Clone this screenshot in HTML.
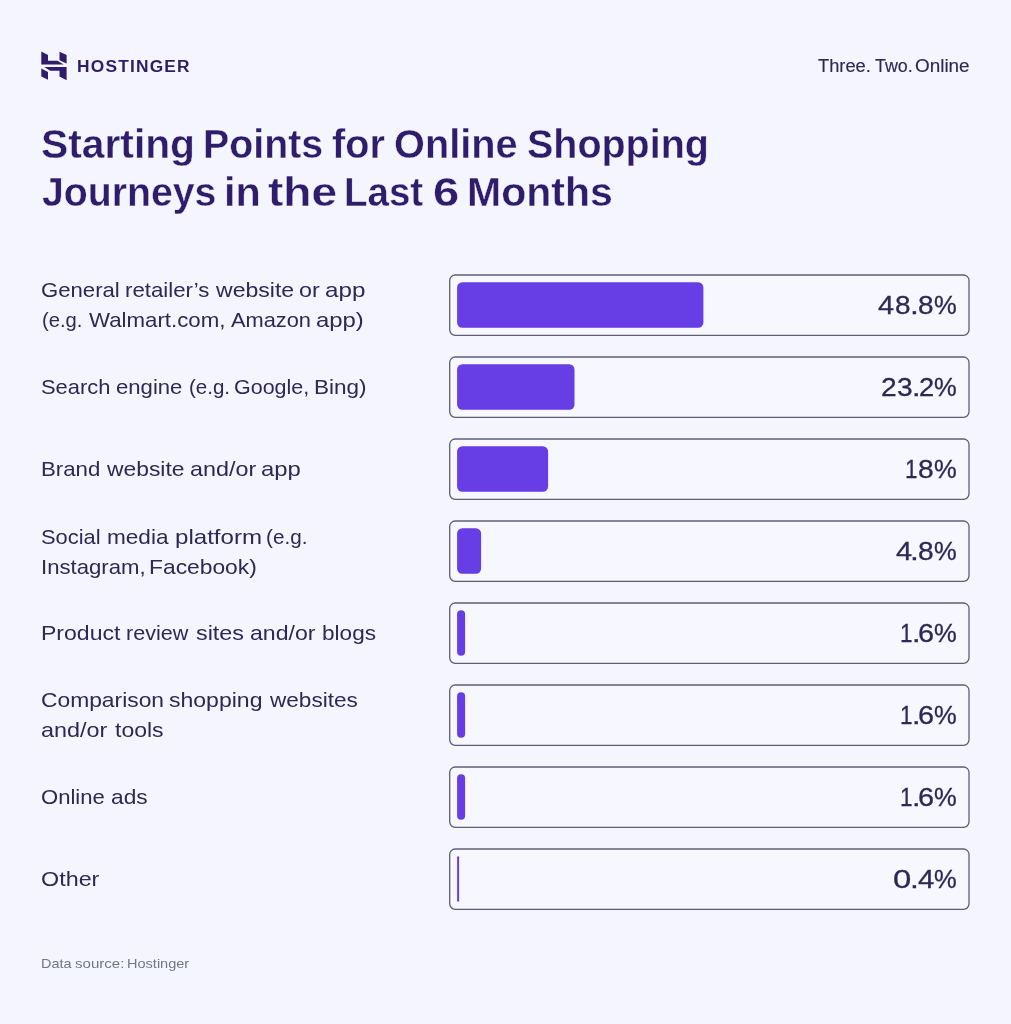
<!DOCTYPE html>
<html lang="en">
<head>
<meta charset="utf-8">
<title>Starting Points for Online Shopping Journeys in the Last 6 Months</title>
<style>
  html,body{margin:0;padding:0;}
  body{width:1011px;height:1024px;background:#f4f5ff;position:relative;overflow:hidden;
       font-family:"Liberation Sans",sans-serif;color:#2f1c6a;}
  .t{position:absolute;white-space:nowrap;line-height:1;transform-origin:0 0;display:block;}
  .g{position:absolute;left:0;top:0;}
  #logo{position:absolute;left:41px;top:51px;width:26px;height:30px;}
  #chart{position:absolute;left:0;top:0;}
  .bx{fill:#f6f7ff;stroke:#605d78;stroke-width:1.3;}
  .br{fill:#673de6;}
  #brand{left:77.20px;top:58.10px;font-size:17.4px;font-weight:700;color:#2f1c6a;letter-spacing:1.2px;transform:scaleX(0.9964);}
  #tagw1{left:818.40px;top:57.00px;font-size:18px;font-weight:400;color:#2f2756;-webkit-text-stroke:0.15px #2f2756;transform:scaleX(1.0160);}
  #tagw2{left:875.20px;top:57.00px;font-size:18px;font-weight:400;color:#2f2756;-webkit-text-stroke:0.15px #2f2756;transform:scaleX(0.9917);}
  #tagw3{left:915.35px;top:57.00px;font-size:18px;font-weight:400;color:#2f2756;-webkit-text-stroke:0.15px #2f2756;transform:scaleX(1.0500);}
  #t1w1{left:40.96px;top:123.70px;font-size:40px;font-weight:700;color:#2f1c6a;-webkit-text-stroke:0.35px #f4f5ff;transform:scaleX(1.0192);}
  #t1w2{left:202.75px;top:123.70px;font-size:40px;font-weight:700;color:#2f1c6a;-webkit-text-stroke:0.35px #f4f5ff;transform:scaleX(0.9829);}
  #t1w3{left:331.51px;top:123.70px;font-size:40px;font-weight:700;color:#2f1c6a;-webkit-text-stroke:0.35px #f4f5ff;transform:scaleX(0.9902);}
  #t1w4{left:393.61px;top:123.70px;font-size:40px;font-weight:700;color:#2f1c6a;-webkit-text-stroke:0.35px #f4f5ff;transform:scaleX(0.9926);}
  #t1w5{left:526.93px;top:123.70px;font-size:40px;font-weight:700;color:#2f1c6a;-webkit-text-stroke:0.35px #f4f5ff;transform:scaleX(0.9860);}
  #t2w1{left:41.82px;top:171.50px;font-size:40px;font-weight:700;color:#2f1c6a;-webkit-text-stroke:0.35px #f4f5ff;transform:scaleX(0.9806);}
  #t2w2{left:223.80px;top:171.50px;font-size:40px;font-weight:700;color:#2f1c6a;-webkit-text-stroke:0.35px #f4f5ff;transform:scaleX(1.0333);}
  #t2w3{left:268.05px;top:171.50px;font-size:40px;font-weight:700;color:#2f1c6a;-webkit-text-stroke:0.35px #f4f5ff;transform:scaleX(1.1509);}
  #t2w4{left:344.42px;top:171.50px;font-size:40px;font-weight:700;color:#2f1c6a;-webkit-text-stroke:0.35px #f4f5ff;transform:scaleX(0.9615);}
  #t2w5{left:432.54px;top:171.50px;font-size:40px;font-weight:700;color:#2f1c6a;-webkit-text-stroke:0.35px #f4f5ff;transform:scaleX(1.1778);}
  #t2w6{left:467.13px;top:171.50px;font-size:40px;font-weight:700;color:#2f1c6a;-webkit-text-stroke:0.35px #f4f5ff;transform:scaleX(1.0248);}
  #l1aw1{left:41.35px;top:278.80px;font-size:21px;font-weight:400;color:#2f2756;transform:scaleX(1.0542);}
  #l1aw2{left:125.24px;top:278.80px;font-size:21px;font-weight:400;color:#2f2756;transform:scaleX(1.0590);}
  #l1aw3{left:216.30px;top:278.80px;font-size:21px;font-weight:400;color:#2f2756;transform:scaleX(1.0971);}
  #l1aw4{left:299.29px;top:278.80px;font-size:21px;font-weight:400;color:#2f2756;transform:scaleX(1.1118);}
  #l1aw5{left:325.45px;top:278.80px;font-size:21px;font-weight:400;color:#2f2756;transform:scaleX(1.1515);}
  #l1bw1{left:41.94px;top:309.40px;font-size:21px;font-weight:400;color:#2f2756;transform:scaleX(0.9615);}
  #l1bw2{left:88.80px;top:309.40px;font-size:21px;font-weight:400;color:#2f2756;transform:scaleX(1.0598);}
  #l1bw3{left:230.60px;top:309.40px;font-size:21px;font-weight:400;color:#2f2756;transform:scaleX(1.0382);}
  #l1bw4{left:315.86px;top:309.40px;font-size:21px;font-weight:400;color:#2f2756;transform:scaleX(1.1375);}
  #l2aw1{left:41.36px;top:375.80px;font-size:21px;font-weight:400;color:#2f2756;transform:scaleX(1.0438);}
  #l2aw2{left:116.35px;top:375.80px;font-size:21px;font-weight:400;color:#2f2756;transform:scaleX(1.0525);}
  #l2aw3{left:189.22px;top:375.80px;font-size:21px;font-weight:400;color:#2f2756;transform:scaleX(0.9769);}
  #l2aw4{left:234.08px;top:375.80px;font-size:21px;font-weight:400;color:#2f2756;transform:scaleX(1.0225);}
  #l2aw5{left:313.76px;top:375.80px;font-size:21px;font-weight:400;color:#2f2756;transform:scaleX(1.0717);}
  #l3aw1{left:40.68px;top:457.90px;font-size:21px;font-weight:400;color:#2f2756;transform:scaleX(1.0585);}
  #l3aw2{left:106.50px;top:457.90px;font-size:21px;font-weight:400;color:#2f2756;transform:scaleX(1.0886);}
  #l3aw3{left:189.59px;top:457.90px;font-size:21px;font-weight:400;color:#2f2756;transform:scaleX(1.1121);}
  #l3aw4{left:261.26px;top:457.90px;font-size:21px;font-weight:400;color:#2f2756;transform:scaleX(1.1364);}
  #l4aw1{left:41.36px;top:525.70px;font-size:21px;font-weight:400;color:#2f2756;transform:scaleX(1.0418);}
  #l4aw2{left:106.62px;top:525.70px;font-size:21px;font-weight:400;color:#2f2756;transform:scaleX(1.0750);}
  #l4aw3{left:174.75px;top:525.70px;font-size:21px;font-weight:400;color:#2f2756;transform:scaleX(1.1466);}
  #l4aw4{left:266.02px;top:525.70px;font-size:21px;font-weight:400;color:#2f2756;transform:scaleX(0.9846);}
  #l4bw1{left:40.69px;top:556.40px;font-size:21px;font-weight:400;color:#2f2756;transform:scaleX(1.0537);}
  #l4bw2{left:148.73px;top:556.40px;font-size:21px;font-weight:400;color:#2f2756;transform:scaleX(1.0865);}
  #l5aw1{left:40.51px;top:621.90px;font-size:21px;font-weight:400;color:#2f2756;transform:scaleX(1.0971);}
  #l5aw2{left:126.37px;top:621.90px;font-size:21px;font-weight:400;color:#2f2756;transform:scaleX(1.0283);}
  #l5aw3{left:195.99px;top:621.90px;font-size:21px;font-weight:400;color:#2f2756;transform:scaleX(1.1122);}
  #l5aw4{left:249.80px;top:621.90px;font-size:21px;font-weight:400;color:#2f2756;transform:scaleX(1.1000);}
  #l5aw5{left:321.62px;top:621.90px;font-size:21px;font-weight:400;color:#2f2756;transform:scaleX(1.0750);}
  #l6aw1{left:41.21px;top:688.60px;font-size:21px;font-weight:400;color:#2f2756;transform:scaleX(1.0865);}
  #l6aw2{left:169.10px;top:688.60px;font-size:21px;font-weight:400;color:#2f2756;transform:scaleX(1.0964);}
  #l6aw3{left:269.70px;top:688.60px;font-size:21px;font-weight:400;color:#2f2756;transform:scaleX(1.0753);}
  #l6bw1{left:41.29px;top:719.20px;font-size:21px;font-weight:400;color:#2f2756;transform:scaleX(1.1138);}
  #l6bw2{left:114.50px;top:719.20px;font-size:21px;font-weight:400;color:#2f2756;transform:scaleX(1.0953);}
  #l7aw1{left:41.15px;top:785.90px;font-size:21px;font-weight:400;color:#2f2756;transform:scaleX(1.0508);}
  #l7aw2{left:111.12px;top:785.90px;font-size:21px;font-weight:400;color:#2f2756;transform:scaleX(1.0813);}
  #l8aw1{left:41.09px;top:867.80px;font-size:21px;font-weight:400;color:#2f2756;transform:scaleX(1.1118);}
  #v1w1{left:878.40px;top:292.20px;font-size:26.5px;font-weight:400;color:#2f2756;-webkit-text-stroke:0.3px #2f2756;transform:scaleX(1.0929);}
  #v1w2{left:894.85px;top:292.20px;font-size:26.5px;font-weight:400;color:#2f2756;-webkit-text-stroke:0.3px #2f2756;transform:scaleX(1.0538);}
  #v1w3{left:910.30px;top:292.20px;font-size:26.5px;font-weight:400;color:#2f2756;-webkit-text-stroke:0.3px #2f2756;transform:scaleX(1.2000);}
  #v1w4{left:918.25px;top:292.20px;font-size:26.5px;font-weight:400;color:#2f2756;-webkit-text-stroke:0.3px #2f2756;transform:scaleX(1.0538);}
  #v1w5{left:934.34px;top:292.20px;font-size:26.5px;font-weight:400;color:#2f2756;-webkit-text-stroke:0.3px #2f2756;transform:scaleX(0.9636);}
  #v2w1{left:881.04px;top:374.20px;font-size:26.5px;font-weight:400;color:#2f2756;-webkit-text-stroke:0.3px #2f2756;transform:scaleX(1.0615);}
  #v2w2{left:897.14px;top:374.20px;font-size:26.5px;font-weight:400;color:#2f2756;-webkit-text-stroke:0.3px #2f2756;transform:scaleX(1.0615);}
  #v2w3{left:911.87px;top:374.20px;font-size:26.5px;font-weight:400;color:#2f2756;-webkit-text-stroke:0.3px #2f2756;transform:scaleX(1.1667);}
  #v2w4{left:919.37px;top:374.20px;font-size:26.5px;font-weight:400;color:#2f2756;-webkit-text-stroke:0.3px #2f2756;transform:scaleX(1.0308);}
  #v2w5{left:934.34px;top:374.20px;font-size:26.5px;font-weight:400;color:#2f2756;-webkit-text-stroke:0.3px #2f2756;transform:scaleX(0.9636);}
  #v3w1{left:905.00px;top:456.20px;font-size:26.5px;font-weight:400;color:#2f2756;-webkit-text-stroke:0.3px #2f2756;transform:scaleX(0.8500);}
  #v3w2{left:918.14px;top:456.20px;font-size:26.5px;font-weight:400;color:#2f2756;-webkit-text-stroke:0.3px #2f2756;transform:scaleX(1.0615);}
  #v3w3{left:934.34px;top:456.20px;font-size:26.5px;font-weight:400;color:#2f2756;-webkit-text-stroke:0.3px #2f2756;transform:scaleX(0.9636);}
  #v4w1{left:895.50px;top:538.20px;font-size:26.5px;font-weight:400;color:#2f2756;-webkit-text-stroke:0.3px #2f2756;transform:scaleX(1.0929);}
  #v4w2{left:910.30px;top:538.20px;font-size:26.5px;font-weight:400;color:#2f2756;-webkit-text-stroke:0.3px #2f2756;transform:scaleX(1.2000);}
  #v4w3{left:918.14px;top:538.20px;font-size:26.5px;font-weight:400;color:#2f2756;-webkit-text-stroke:0.3px #2f2756;transform:scaleX(1.0615);}
  #v4w4{left:934.34px;top:538.20px;font-size:26.5px;font-weight:400;color:#2f2756;-webkit-text-stroke:0.3px #2f2756;transform:scaleX(0.9636);}
  #v5w1{left:899.75px;top:620.20px;font-size:26.5px;font-weight:400;color:#2f2756;-webkit-text-stroke:0.3px #2f2756;transform:scaleX(0.8500);}
  #v5w2{left:911.67px;top:620.20px;font-size:26.5px;font-weight:400;color:#2f2756;-webkit-text-stroke:0.3px #2f2756;transform:scaleX(1.1667);}
  #v5w3{left:918.12px;top:620.20px;font-size:26.5px;font-weight:400;color:#2f2756;-webkit-text-stroke:0.3px #2f2756;transform:scaleX(1.0846);}
  #v5w4{left:934.34px;top:620.20px;font-size:26.5px;font-weight:400;color:#2f2756;-webkit-text-stroke:0.3px #2f2756;transform:scaleX(0.9636);}
  #v6w1{left:899.75px;top:702.20px;font-size:26.5px;font-weight:400;color:#2f2756;-webkit-text-stroke:0.3px #2f2756;transform:scaleX(0.8500);}
  #v6w2{left:911.67px;top:702.20px;font-size:26.5px;font-weight:400;color:#2f2756;-webkit-text-stroke:0.3px #2f2756;transform:scaleX(1.1667);}
  #v6w3{left:918.12px;top:702.20px;font-size:26.5px;font-weight:400;color:#2f2756;-webkit-text-stroke:0.3px #2f2756;transform:scaleX(1.0846);}
  #v6w4{left:934.34px;top:702.20px;font-size:26.5px;font-weight:400;color:#2f2756;-webkit-text-stroke:0.3px #2f2756;transform:scaleX(0.9636);}
  #v7w1{left:899.75px;top:784.20px;font-size:26.5px;font-weight:400;color:#2f2756;-webkit-text-stroke:0.3px #2f2756;transform:scaleX(0.8500);}
  #v7w2{left:911.67px;top:784.20px;font-size:26.5px;font-weight:400;color:#2f2756;-webkit-text-stroke:0.3px #2f2756;transform:scaleX(1.1667);}
  #v7w3{left:918.12px;top:784.20px;font-size:26.5px;font-weight:400;color:#2f2756;-webkit-text-stroke:0.3px #2f2756;transform:scaleX(1.0846);}
  #v7w4{left:934.34px;top:784.20px;font-size:26.5px;font-weight:400;color:#2f2756;-webkit-text-stroke:0.3px #2f2756;transform:scaleX(0.9636);}
  #v8w1{left:893.46px;top:866.20px;font-size:26.5px;font-weight:400;color:#2f2756;-webkit-text-stroke:0.3px #2f2756;transform:scaleX(1.2385);}
  #v8w2{left:910.30px;top:866.20px;font-size:26.5px;font-weight:400;color:#2f2756;-webkit-text-stroke:0.3px #2f2756;transform:scaleX(1.2000);}
  #v8w3{left:918.30px;top:866.20px;font-size:26.5px;font-weight:400;color:#2f2756;-webkit-text-stroke:0.3px #2f2756;transform:scaleX(1.1071);}
  #v8w4{left:934.34px;top:866.20px;font-size:26.5px;font-weight:400;color:#2f2756;-webkit-text-stroke:0.3px #2f2756;transform:scaleX(0.9636);}
  #srcw1{left:40.91px;top:957.40px;font-size:13.3px;font-weight:400;color:#727586;transform:scaleX(1.0852);}
  #srcw2{left:75.37px;top:957.40px;font-size:13.3px;font-weight:400;color:#727586;transform:scaleX(1.1317);}
  #srcw3{left:126.61px;top:957.40px;font-size:13.3px;font-weight:400;color:#727586;transform:scaleX(1.0929);}
</style>
</head>
<body>
<svg id="logo" viewBox="41 51 26 30">
  <g fill="#2f1c6a">
    <polygon points="41.3,51.5 48,54.9 48,60.8 57.5,60.8 63.7,64.6 41.3,64.6"/>
    <polygon points="59.5,51.7 66.6,55.1 66.6,63.6 59.5,60.2"/>
    <polygon points="44.3,67.1 66.6,67.1 66.6,80.2 59.5,76.6 59.5,70.7 50.2,70.7"/>
    <polygon points="41.3,68.5 48,71.9 48,79.8 41.3,76.6"/>
  </g>
</svg>
<div class="t" id="brand">HOSTINGER</div>
<div class="g" id="tag"><span class="t" id="tagw1">Three.</span> <span class="t" id="tagw2">Two.</span> <span class="t" id="tagw3">Online</span></div>
<div class="g" id="t1"><span class="t" id="t1w1">Starting</span> <span class="t" id="t1w2">Points</span> <span class="t" id="t1w3">for</span> <span class="t" id="t1w4">Online</span> <span class="t" id="t1w5">Shopping</span></div>
<div class="g" id="t2"><span class="t" id="t2w1">Journeys</span> <span class="t" id="t2w2">in</span> <span class="t" id="t2w3">the</span> <span class="t" id="t2w4">Last</span> <span class="t" id="t2w5">6</span> <span class="t" id="t2w6">Months</span></div>
<svg id="chart" width="1011" height="1024" viewBox="0 0 1011 1024">
  <rect class="bx" x="449.7" y="275.0" width="519.3" height="60.3" rx="5.5" ry="5.5"/>
  <rect class="br" x="457.1" y="282.2" width="246.3" height="45.6" rx="5.2" ry="5.2"/>
  <rect class="bx" x="449.7" y="357.0" width="519.3" height="60.3" rx="5.5" ry="5.5"/>
  <rect class="br" x="457.1" y="364.2" width="117.4" height="45.6" rx="5.2" ry="5.2"/>
  <rect class="bx" x="449.7" y="439.0" width="519.3" height="60.3" rx="5.5" ry="5.5"/>
  <rect class="br" x="457.1" y="446.2" width="91" height="45.6" rx="5.2" ry="5.2"/>
  <rect class="bx" x="449.7" y="521.0" width="519.3" height="60.3" rx="5.5" ry="5.5"/>
  <rect class="br" x="457.1" y="528.2" width="24.0" height="45.6" rx="5.2" ry="5.2"/>
  <rect class="bx" x="449.7" y="603.0" width="519.3" height="60.3" rx="5.5" ry="5.5"/>
  <rect class="br" x="457.1" y="610.2" width="8" height="45.6" rx="4.0" ry="4.0"/>
  <rect class="bx" x="449.7" y="685.0" width="519.3" height="60.3" rx="5.5" ry="5.5"/>
  <rect class="br" x="457.1" y="692.2" width="8" height="45.6" rx="4.0" ry="4.0"/>
  <rect class="bx" x="449.7" y="767.0" width="519.3" height="60.3" rx="5.5" ry="5.5"/>
  <rect class="br" x="457.1" y="774.2" width="8" height="45.6" rx="4.0" ry="4.0"/>
  <rect class="bx" x="449.7" y="849.0" width="519.3" height="60.3" rx="5.5" ry="5.5"/>
  <rect class="br" x="457.1" y="856.2" width="2" height="45.6" rx="1.0" ry="1.0"/>
</svg>
<!-- row 1 -->
<div class="g" id="l1a"><span class="t" id="l1aw1">General</span> <span class="t" id="l1aw2">retailer’s</span> <span class="t" id="l1aw3">website</span> <span class="t" id="l1aw4">or</span> <span class="t" id="l1aw5">app</span></div>
<div class="g" id="l1b"><span class="t" id="l1bw1">(e.g.</span> <span class="t" id="l1bw2">Walmart.com,</span> <span class="t" id="l1bw3">Amazon</span> <span class="t" id="l1bw4">app)</span></div>
<div class="g" id="v1"><span class="t" id="v1w1">4</span><span class="t" id="v1w2">8</span><span class="t" id="v1w3">.</span><span class="t" id="v1w4">8</span><span class="t" id="v1w5">%</span></div>
<!-- row 2 -->
<div class="g" id="l2a"><span class="t" id="l2aw1">Search</span> <span class="t" id="l2aw2">engine</span> <span class="t" id="l2aw3">(e.g.</span> <span class="t" id="l2aw4">Google,</span> <span class="t" id="l2aw5">Bing)</span></div>
<div class="g" id="v2"><span class="t" id="v2w1">2</span><span class="t" id="v2w2">3</span><span class="t" id="v2w3">.</span><span class="t" id="v2w4">2</span><span class="t" id="v2w5">%</span></div>
<!-- row 3 -->
<div class="g" id="l3a"><span class="t" id="l3aw1">Brand</span> <span class="t" id="l3aw2">website</span> <span class="t" id="l3aw3">and/or</span> <span class="t" id="l3aw4">app</span></div>
<div class="g" id="v3"><span class="t" id="v3w1">1</span><span class="t" id="v3w2">8</span><span class="t" id="v3w3">%</span></div>
<!-- row 4 -->
<div class="g" id="l4a"><span class="t" id="l4aw1">Social</span> <span class="t" id="l4aw2">media</span> <span class="t" id="l4aw3">platform</span> <span class="t" id="l4aw4">(e.g.</span></div>
<div class="g" id="l4b"><span class="t" id="l4bw1">Instagram,</span> <span class="t" id="l4bw2">Facebook)</span></div>
<div class="g" id="v4"><span class="t" id="v4w1">4</span><span class="t" id="v4w2">.</span><span class="t" id="v4w3">8</span><span class="t" id="v4w4">%</span></div>
<!-- row 5 -->
<div class="g" id="l5a"><span class="t" id="l5aw1">Product</span> <span class="t" id="l5aw2">review</span> <span class="t" id="l5aw3">sites</span> <span class="t" id="l5aw4">and/or</span> <span class="t" id="l5aw5">blogs</span></div>
<div class="g" id="v5"><span class="t" id="v5w1">1</span><span class="t" id="v5w2">.</span><span class="t" id="v5w3">6</span><span class="t" id="v5w4">%</span></div>
<!-- row 6 -->
<div class="g" id="l6a"><span class="t" id="l6aw1">Comparison</span> <span class="t" id="l6aw2">shopping</span> <span class="t" id="l6aw3">websites</span></div>
<div class="g" id="l6b"><span class="t" id="l6bw1">and/or</span> <span class="t" id="l6bw2">tools</span></div>
<div class="g" id="v6"><span class="t" id="v6w1">1</span><span class="t" id="v6w2">.</span><span class="t" id="v6w3">6</span><span class="t" id="v6w4">%</span></div>
<!-- row 7 -->
<div class="g" id="l7a"><span class="t" id="l7aw1">Online</span> <span class="t" id="l7aw2">ads</span></div>
<div class="g" id="v7"><span class="t" id="v7w1">1</span><span class="t" id="v7w2">.</span><span class="t" id="v7w3">6</span><span class="t" id="v7w4">%</span></div>
<!-- row 8 -->
<div class="g" id="l8a"><span class="t" id="l8aw1">Other</span></div>
<div class="g" id="v8"><span class="t" id="v8w1">0</span><span class="t" id="v8w2">.</span><span class="t" id="v8w3">4</span><span class="t" id="v8w4">%</span></div>
<div class="g" id="src"><span class="t" id="srcw1">Data</span> <span class="t" id="srcw2">source:</span> <span class="t" id="srcw3">Hostinger</span></div>
</body>
</html>
